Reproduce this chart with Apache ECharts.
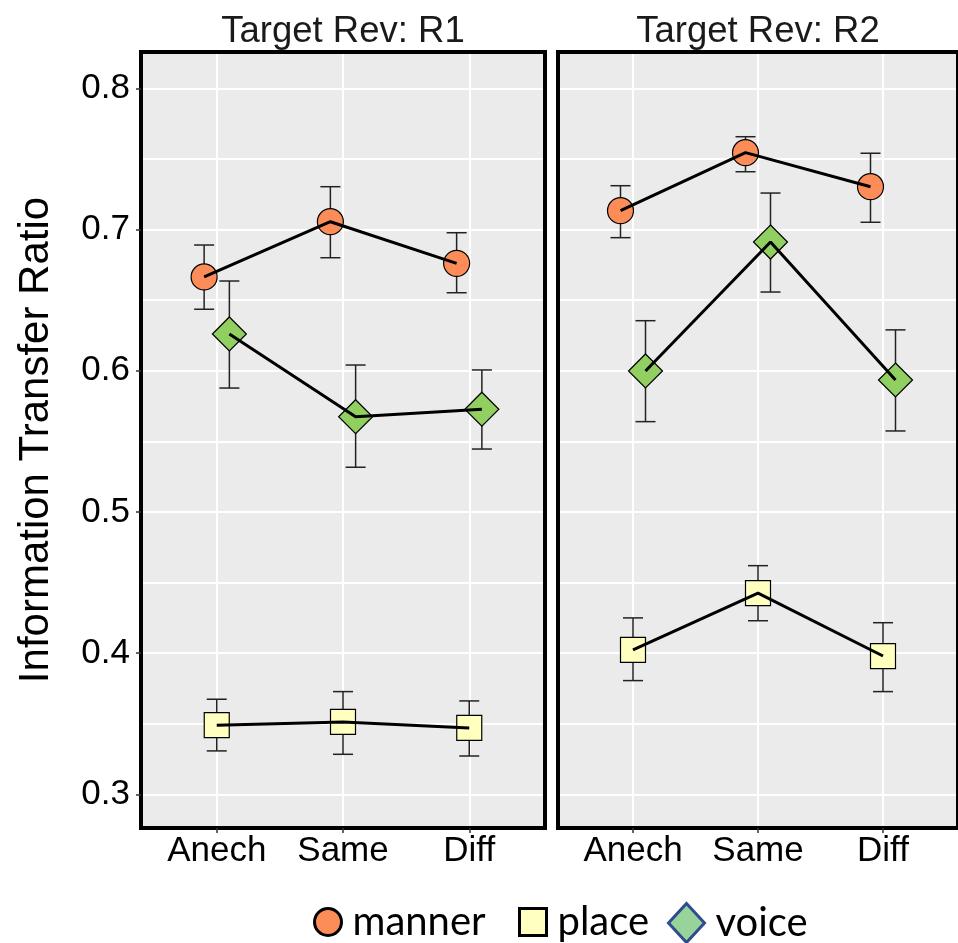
<!DOCTYPE html>
<html>
<head>
<meta charset="utf-8">
<script src="https://cdn.jsdelivr.net/npm/echarts@6/dist/echarts.min.js"></script>
<style>
  html, body { margin: 0; padding: 0; background: #fff; }
  #chart { width: 958px; height: 943px; }
</style>
</head>
<body>
<div id="chart"></div>
<script>
// categories and facets
const categories = ['Anech', 'Same', 'Diff'];
const facets = ['Target Rev: R1', 'Target Rev: R2'];
const yTicks = [0.3, 0.4, 0.5, 0.6, 0.7, 0.8];
const yGrid = [0.3, 0.35, 0.4, 0.45, 0.5, 0.55, 0.6, 0.65, 0.7, 0.75, 0.8];

// Target Rev: R1
const mannerR1 = [0.6664, 0.7055, 0.676];
const mannerR1Lo = [0.6435, 0.680, 0.6552];
const mannerR1Hi = [0.689, 0.7303, 0.6977];
const placeR1 = [0.3489, 0.3512, 0.347];
const placeR1Lo = [0.3307, 0.3283, 0.3271];
const placeR1Hi = [0.3673, 0.3727, 0.3661];
const voiceR1 = [0.626, 0.5674, 0.5727];
const voiceR1Lo = [0.5877, 0.5316, 0.5445];
const voiceR1Hi = [0.6635, 0.604, 0.6005];

// Target Rev: R2
const mannerR2 = [0.7133, 0.7544, 0.7303];
const mannerR2Lo = [0.6942, 0.7409, 0.7051];
const mannerR2Hi = [0.731, 0.7657, 0.754];
const placeR2 = [0.4022, 0.4424, 0.3979];
const placeR2Lo = [0.3805, 0.4229, 0.3727];
const placeR2Hi = [0.4249, 0.4619, 0.4215];
const voiceR2 = [0.5998, 0.6911, 0.5934];
const voiceR2Lo = [0.5639, 0.6557, 0.5573];
const voiceR2Hi = [0.6354, 0.7258, 0.6289];

const groups = [
    { name: 'manner', symbol: 'circle', size: 26, color: '#FC8D59', dodge: -0.1,
      values: [mannerR1, mannerR2], lo: [mannerR1Lo, mannerR2Lo], hi: [mannerR1Hi, mannerR2Hi] },
    { name: 'place', symbol: 'rect', size: 25, color: '#FFFFBF', dodge: 0,
      values: [placeR1, placeR2], lo: [placeR1Lo, placeR2Lo], hi: [placeR1Hi, placeR2Hi] },
    { name: 'voice', symbol: 'diamond', size: 34, color: '#91CF60', dodge: 0.1,
      values: [voiceR1, voiceR2], lo: [voiceR1Lo, voiceR2Lo], hi: [voiceR1Hi, voiceR2Hi] }
];

const font = 'Liberation Sans, Arial, sans-serif';
const yMin = 0.2761, yMax = 0.8257;
const border = { show: true, lineStyle: { color: '#000', width: 4, cap: 'square' } };
const gridLine = { show: true, lineStyle: { color: '#fff', width: 2 } };

const chart = echarts.init(document.getElementById('chart'));

const grids = [], xAxes = [], yAxes = [], series = [];
facets.forEach((facet, f) => {
    grids.push({
        left: f === 0 ? 141 : 558, top: 52, width: 404, height: 776,
        show: true, backgroundColor: '#EBEBEB', borderWidth: 0
    });
    // bottom: categories, ticks, vertical grid lines
    xAxes.push({
        type: 'value', gridIndex: f, position: 'bottom', min: 0.4, max: 3.6,
        axisLine: border,
        axisTick: { show: true, customValues: [1, 2, 3], length: 5, lineStyle: { color: '#333', width: 1.5 } },
        axisLabel: {
            customValues: [1, 2, 3], margin: 6, fontSize: 35, color: '#000', fontFamily: font,
            formatter: v => categories[Math.round(v) - 1]
        },
        splitLine: gridLine
    });
    // top: panel border + facet label
    xAxes.push({
        type: 'value', gridIndex: f, position: 'top', min: 0.4, max: 3.6,
        axisLine: border, axisTick: { show: false }, axisLabel: { show: false }, splitLine: { show: false },
        name: facet, nameLocation: 'middle', nameGap: 2,
        nameTextStyle: { fontSize: 36.5, color: '#1a1a1a', fontFamily: font }
    });
    // left: ticks + labels
    yAxes.push({
        type: 'value', gridIndex: f, position: 'left', min: yMin, max: yMax,
        axisLine: border,
        axisTick: { show: f === 0, customValues: yTicks, length: 5, lineStyle: { color: '#333', width: 1.5 } },
        axisLabel: {
            show: f === 0, customValues: yTicks, margin: 11, fontSize: 35, color: '#000', fontFamily: font,
            formatter: v => v.toFixed(1)
        },
        splitLine: { show: false },
        name: f === 0 ? 'Information Transfer Ratio' : '',
        nameLocation: 'middle', nameGap: 84,
        nameTextStyle: { fontSize: 42, color: '#000', fontFamily: font }
    });
    // right: panel border + horizontal grid lines
    yAxes.push({
        type: 'value', gridIndex: f, position: 'right', min: yMin, max: yMax,
        axisLine: border,
        axisTick: { show: false, customValues: yGrid },
        axisLabel: { show: false },
        splitLine: gridLine
    });

    groups.forEach(g => {
        const pts = g.values[f].map((v, i) => [i + 1 + g.dodge, v]);
        const bars = g.values[f].map((v, i) => [i + 1 + g.dodge, g.lo[f][i], g.hi[f][i]]);
        series.push({
            type: 'custom', xAxisIndex: f * 2, yAxisIndex: f * 2, z: 2,
            silent: true,
            data: bars,
            renderItem: (params, api) => {
                const x = api.value(0);
                const lo = api.coord([x, api.value(1)]);
                const hi = api.coord([x, api.value(2)]);
                const w = 10;
                const style = { stroke: '#222', lineWidth: 1.5 };
                return {
                    type: 'group',
                    children: [
                        { type: 'line', shape: { x1: lo[0], y1: lo[1], x2: hi[0], y2: hi[1] }, style },
                        { type: 'line', shape: { x1: hi[0] - w, y1: hi[1], x2: hi[0] + w, y2: hi[1] }, style },
                        { type: 'line', shape: { x1: lo[0] - w, y1: lo[1], x2: lo[0] + w, y2: lo[1] }, style }
                    ]
                };
            }
        });
        series.push({
            name: g.name, type: 'scatter', xAxisIndex: f * 2, yAxisIndex: f * 2, z: 3,
            symbol: g.symbol, symbolSize: g.size,
            itemStyle: { color: g.color, borderColor: '#000', borderWidth: 1.2, opacity: 1 },
            data: pts
        });
        series.push({
            type: 'line', xAxisIndex: f * 2, yAxisIndex: f * 2, z: 4,
            symbol: 'none', silent: true,
            lineStyle: { color: '#000', width: 3 },
            data: pts
        });
    });
});

const legendFont = { fontSize: 40, lineHeight: 40, color: '#000', fontFamily: 'Lato, Open Sans, sans-serif', padding: [0, 0, 0, 6] };
const option = {
    animation: false,
    grid: grids,
    xAxis: xAxes,
    yAxis: yAxes,
    legend: [
        { left: 313, top: 902, padding: 0, selectedMode: false, itemWidth: 27, itemHeight: 27, textStyle: legendFont,
          data: [{ name: 'manner', icon: 'circle', itemStyle: { color: '#FC8D59', borderColor: '#000', borderWidth: 3 } }] },
        { left: 518, top: 902, padding: 0, selectedMode: false, itemWidth: 27, itemHeight: 27, textStyle: legendFont,
          data: [{ name: 'place', icon: 'rect', itemStyle: { color: '#FFFFBF', borderColor: '#000', borderWidth: 3 } }] },
        { left: 667, top: 902, padding: 0, selectedMode: false, itemWidth: 36, itemHeight: 39, textStyle: legendFont,
          data: [{ name: 'voice', icon: 'diamond', itemStyle: { color: '#98D49A', borderColor: '#2E4C8E', borderWidth: 3 } }] }
    ],
    series: series
};

chart.setOption(option);
window.addEventListener('resize', () => chart.resize());
</script>
</body>
</html>
